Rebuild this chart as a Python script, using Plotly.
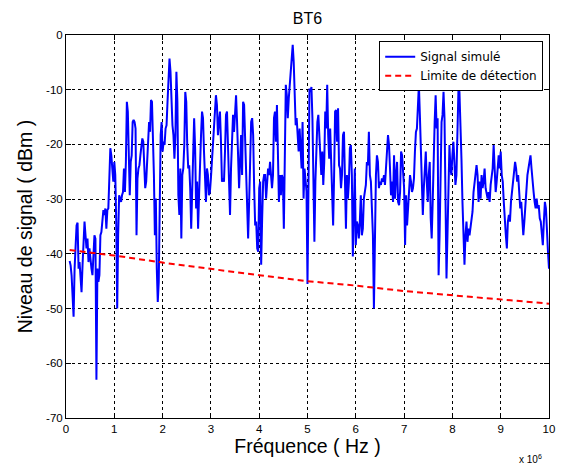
import numpy as np
import plotly.graph_objects as go

# Signal readings, one list per frequency interval (units of 1e6 Hz)
seg_edges = [0.075, 1, 2, 3, 4, 5, 6, 7, 8, 9, 10]

seg0 = [-41.3, -42.1, -44, -48, -51.5, -42.7, -36.6, -34.8, -34.3, -42.7, -41.5, -44.5, -47, -42.1, -37.8,
        -34.1, -36.6, -39, -37.2, -41.5, -39, -41.5, -42.7, -43.9, -39, -36.6, -37.2, -63, -42.7, -45.1,
        -43.9, -36.6, -36, -32.9, -32, -32.9, -31.7, -35.4, -32, -31.7, -26.8, -20.7, -22, -25.6, -26.8]
seg1 = [-23.2, -25.6, -34, -50, -36.6, -29.3, -29.9, -30.5, -29.3, -28.7, -24.4, -28.7, -23.2, -12.2, -14,
        -22, -29.3, -23.2, -22, -15.9, -15.5, -15.9, -17.1, -36.6, -26.2, -24.4, -23.8, -22, -20.7, -18.9,
        -19.5, -22.6, -28, -26.8, -23.2, -20.1, -15.9, -17.7, -11.9, -12.2, -17.7, -25.6, -36.6, -29.9,
        -42.7, -48.8, -45.1, -29.3, -18.3, -15.9]
seg2 = [-21.3, -19.5, -20.1, -17.1, -16.5, -12.2, -7.3, -4.3, -6.7, -12.8, -16.5, -18.3, -22.6, -18.3, -6.7,
        -12.2, -29.3, -32.9, -24.4, -37.2, -25.6, -24.4, -20.1, -10.4, -12.2, -20.1, -24.4, -23.8, -28, -35.4,
        -26.8, -21.3, -15.2, -20.7, -31.7, -26.8, -35.4, -29.3, -21.3, -18.3, -14, -15.2, -21.3, -28.7, -30.5,
        -24.4, -25.6, -29.3, -28.7]
seg3 = [-26.2, -23.2, -18.3, -17.1, -12.2, -11, -12.8, -18.3, -15.9, -14, -19.5, -26.8, -26.2, -26.8, -21.3,
        -14.6, -14, -20.1, -29.3, -32.9, -24.4, -17.1, -14.6, -17.7, -15.2, -11, -15.9, -24.4, -28, -23.2,
        -18.3, -25.6, -12.2, -12.8, -18.3, -24.4, -33.5, -37.2, -30.5, -23.2, -15.9, -15.2, -18.3, -28, -34.8,
        -34.1, -39, -39.6]
seg4 = [-28, -26.8, -42, -33.5, -26.8, -25.6, -25.6, -29.9, -25.6, -24.4, -25.6, -23.2, -25.6, -28, -25.6,
        -15.2, -14, -19.5, -12.8, -20.7, -30.5, -25.6, -29.3, -25.6, -26.2, -35.4, -21.3, -9.1, -11, -15.2,
        -11.6, -9.1, -6.7, -3, -1.8, -4.9, -12.2, -16.5, -15.2, -17.7, -21.3, -17.1, -20.1, -24.4, -15.9,
        -29.9, -24.4, -26.8, -28.6]
seg5 = [-45.5, -27.4, -9.8, -10.4, -9.5, -15.2, -24.4, -37.8, -26.8, -18.3, -15.9, -14.6, -17.7, -22, -25.6,
        -21.3, -27.4, -23.2, -14, -17.1, -9.1, -18.3, -22.6, -17.1, -24.4, -26.8, -34.8, -25.6, -14, -13.7,
        -19.5, -13.4, -23.8, -24.4, -28, -25.6, -18.3, -17.7, -27.4, -35.4, -25.6, -29.9, -26.8, -20.7, -20.1,
        -25.6, -40.5, -31.7, -24.4]
seg6 = [-38.4, -34.1, -34.8, -37.2, -34.1, -29.3, -36.6, -35.4, -29.9, -28, -27.4, -23.2, -23.8, -17.7, -25.6,
        -26.8, -32.3, -36.6, -50, -36.6, -25.6, -22, -23.2, -28, -26.8, -27.4, -26.2, -26.8, -25.6, -27.4,
        -23.2, -21.3, -18.3, -20.1, -24.4, -29.3, -26.8, -30.5, -22, -29.9, -25.6, -23.2, -30.5, -31.1, -28.7,
        -21.3, -22, -24.4]
seg7 = [-28, -38.4, -29.3, -34.8, -31.7, -28, -25.6, -26.8, -28.7, -28, -26.2, -21.3, -17.7, -17.1, -13.4,
        -9.1, -14.6, -20.1, -29.3, -32.9, -28, -23.2, -21.3, -26.8, -30.5, -25.6, -23.2, -33.5, -37.2, -30.5,
        -21.3, -15.9, -11, -17.1, -15.2, -43.9, -36.6, -25.6, -15.9, -14.6, -10.4, -15.2, -36.6, -44.5, -36.6,
        -25.6, -20.1, -24.4, -25.6]
seg8 = [-22, -19.5, -23.2, -27.4, -25.6, -15.2, -10.1, -10.4, -15.2, -22.6, -30.5, -39.6,
        -42, -36.6, -34.1, -37.8, -35.4, -36.6, -34.8, -34.1, -32.3, -28.7, -26.8, -24.4, -23.8, -25.6, -30.5,
        -26.8, -29.9, -25.6, -28, -26.8, -24.4, -28, -29.3, -29.9, -28.7, -30.5, -27.4, -26.2, -24.4, -20.1,
        -25.6, -28.7, -26.8, -23.8, -22, -24.4]
seg9 = [-21.3, -25.6, -26.8, -30.5, -34.8, -36.6, -39, -34.1, -32.9, -34.1, -30.5, -28.7, -26.8, -26.2, -23.2,
        -24.4, -26.8, -25.6, -28.7, -31.7, -30.5, -34.1, -36.6, -34.1, -30.5, -28, -25.6, -24.4, -23.2, -22,
        -24.4, -27.4, -28.7, -30.5, -31.7, -29.9, -31.7, -31.1, -33.5, -34.1, -36.6, -38.4, -34.1, -30.5,
        -31.7, -36.6, -39.6, -42.7]
segments = [seg0, seg1, seg2, seg3, seg4, seg5, seg6, seg7, seg8, seg9]

# Detection limit
limit_freq = [0.075, 1, 2, 3, 4, 5, 6, 7, 8, 9, 10]
limit_level = [-39.3, -40.3, -41.6, -42.8, -43.9, -45.0, -45.8, -46.8, -47.6, -48.4, -49.1]

x_ticks = [0, 1, 2, 3, 4, 5, 6, 7, 8, 9, 10]
y_ticks = [-70, -60, -50, -40, -30, -20, -10, 0]

sig_f, sig_v = [], []
for i, vals in enumerate(segments):
    last = i == len(segments) - 1
    f = np.linspace(seg_edges[i], seg_edges[i + 1], len(vals), endpoint=last)
    sig_f.extend(f.tolist())
    sig_v.extend(vals)

FONT = "Liberation Sans, Arial, Helvetica, sans-serif"
LEGFONT = "DejaVu Sans, Liberation Sans, Arial, sans-serif"

fig = go.Figure()
fig.add_trace(go.Scatter(x=sig_f, y=sig_v, mode="lines", name="Signal simulé",
                         line=dict(color="#0000ff", width=2)))
fig.add_trace(go.Scatter(x=limit_freq, y=limit_level, mode="lines", name="Limite de détection",
                         line=dict(color="#ff0000", width=2, dash="6px,4px")))

axis_common = dict(showline=True, linecolor="black", linewidth=1, mirror="ticks",
                   ticks="inside", ticklen=5, tickcolor="black",
                   showgrid=True, gridcolor="black", gridwidth=1, griddash="3px,3px",
                   zeroline=False, automargin=False,
                   tickfont=dict(family=FONT, size=11.5, color="black"))

fig.update_xaxes(range=[0, 10], tickvals=x_ticks, ticktext=[str(t) for t in x_ticks],
                 title=dict(text="Fréquence ( Hz )", font=dict(family=FONT, size=19.5, color="black"), standoff=5),
                 **axis_common)
fig.update_yaxes(range=[-70, 0], tickvals=y_ticks, ticktext=[str(t) for t in y_ticks],
                 title=dict(text="Niveau de signal ( dBm )", font=dict(family=FONT, size=19.5, color="black"), standoff=8),
                 **axis_common)

W, H = 552, 457
fig.update_layout(
    width=W, height=H,
    margin=dict(l=58, r=11, t=27, b=47),
    paper_bgcolor="white", plot_bgcolor="white",
    title=dict(text="BT6", x=0.5, xref="paper", y=1 - 10 / H, yref="container", yanchor="middle",
               font=dict(family=FONT, size=16, color="black")),
    font=dict(family=FONT, color="black"),
    legend=dict(x=0.988, y=0.984, xanchor="right", yanchor="top", bgcolor="white",
                bordercolor="black", borderwidth=1, font=dict(family=LEGFONT, size=12, color="black"),
                tracegroupgap=0, itemwidth=30),
    annotations=[dict(text="x 10<sup>6</sup>", x=0.934, y=-0.107, xref="paper", yref="paper",
                      xanchor="left", yanchor="middle", showarrow=False,
                      font=dict(family=FONT, size=10, color="black"))],
)

fig.write_html("out.html")
